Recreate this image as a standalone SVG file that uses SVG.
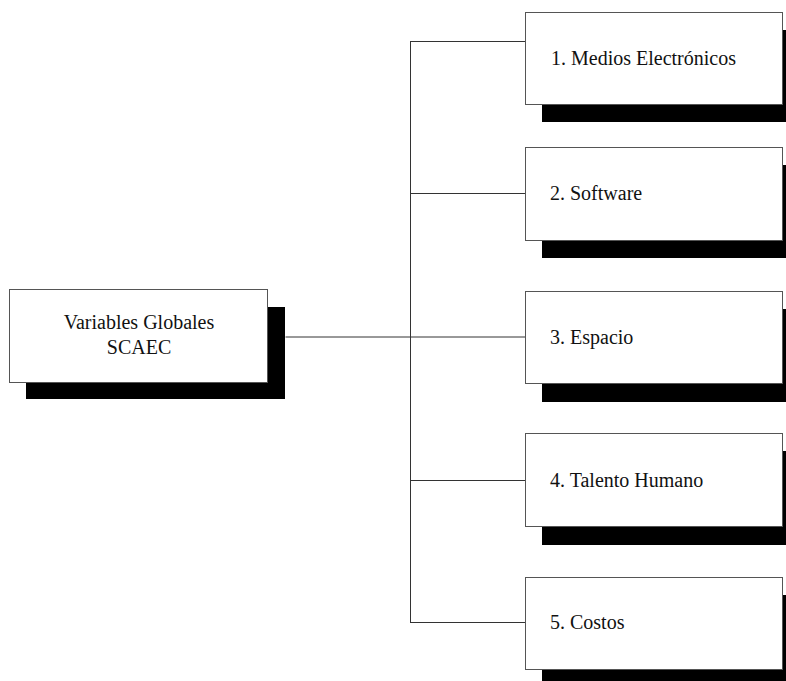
<svg xmlns="http://www.w3.org/2000/svg" width="786" height="681" viewBox="0 0 786 681">
<style>
.box{fill:#fff;stroke:#555;stroke-width:1}
.sh{fill:#000}
.t{font-size:20px;fill:#111}
.c{stroke:#333;stroke-width:1;fill:none}
</style>
<rect width="786" height="681" fill="#fff"/>
<g id="connectors">
<path class="c" d="M285.5,337 L525,337"/>
<path class="c" d="M410.5,41 L410.5,622.5"/>
<path class="c" d="M410,41.5 H525 M410,193.5 H525 M410,480.5 H525 M410,622.5 H525"/>
</g>
<g id="root">
<rect class="sh" x="26" y="307" width="259" height="92"/>
<rect class="box" x="9.5" y="289.5" width="258" height="93"/>
<text class="t" font-family="Liberation Serif, serif" x="139" y="329" text-anchor="middle">Variables Globales</text>
<text class="t" font-family="Liberation Serif, serif" x="139" y="354" text-anchor="middle">SCAEC</text>
</g>
<g id="n1">
<rect class="sh" x="542" y="30" width="260" height="92"/>
<rect class="box" x="525.5" y="12.5" width="257" height="92"/>
<text class="t" font-family="Liberation Serif, serif" x="551" y="65">1. Medios Electrónicos</text>
</g>
<g id="n2">
<rect class="sh" x="542" y="165" width="260" height="93"/>
<rect class="box" x="525.5" y="147.5" width="257" height="93"/>
<text class="t" font-family="Liberation Serif, serif" x="550" y="200">2. Software</text>
</g>
<g id="n3">
<rect class="sh" x="542" y="309" width="260" height="93"/>
<rect class="box" x="525.5" y="291.5" width="257" height="92"/>
<text class="t" font-family="Liberation Serif, serif" x="550" y="344">3. Espacio</text>
</g>
<g id="n4">
<rect class="sh" x="542" y="451" width="260" height="94"/>
<rect class="box" x="525.5" y="433.5" width="257" height="93"/>
<text class="t" font-family="Liberation Serif, serif" x="550" y="487">4. Talento Humano</text>
</g>
<g id="n5">
<rect class="sh" x="542" y="595" width="260" height="93"/>
<rect class="box" x="525.5" y="577.5" width="257" height="92"/>
<text class="t" font-family="Liberation Serif, serif" x="550" y="629">5. Costos</text>
</g>
</svg>
